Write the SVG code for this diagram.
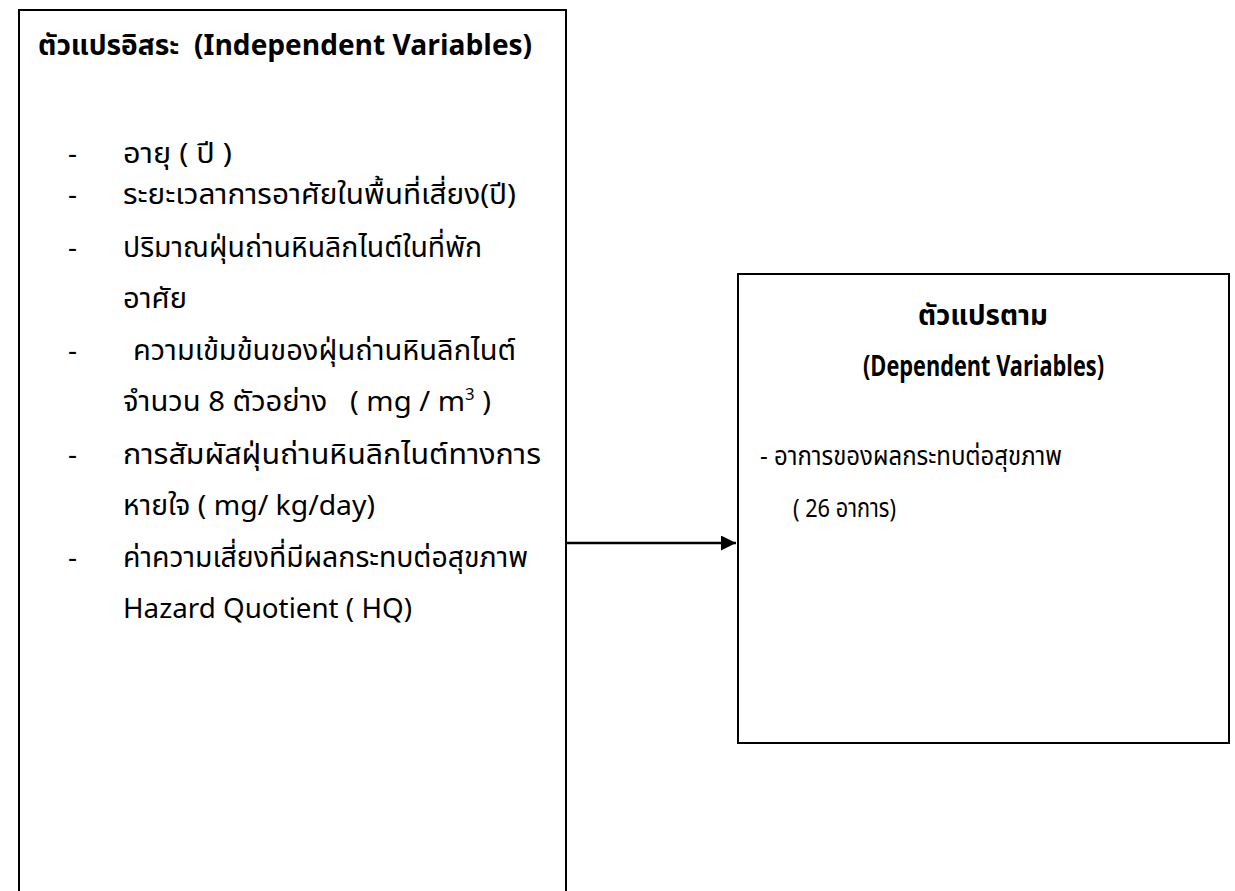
<svg xmlns="http://www.w3.org/2000/svg" width="1235" height="891" viewBox="0 0 1235 891">
<style>
.box{fill:#fff;stroke:#000;stroke-width:2}
.t{font-family:"Noto Sans Thai","Leelawadee UI","Noto Sans","DejaVu Sans",sans-serif;font-size:28px;fill:#000;white-space:pre}
.s{font-size:26px}
.b{font-weight:bold}
.conn{stroke:#000;stroke-width:2.5;fill:none}
</style>
<defs>
<marker id="ah" markerWidth="6" markerHeight="6" refX="6" refY="3" orient="auto" markerUnits="strokeWidth">
<path d="M0,0 L6,3 L0,6 Z" fill="#000"/>
</marker>
</defs>
<rect width="1235" height="891" fill="#fff"/>
<g id="independent">
<rect class="box" x="19" y="10" width="547" height="895"/>
<text class="t b" x="38" y="55" font-size="25" textLength="494" lengthAdjust="spacingAndGlyphs">ตัวแปรอิสระ  (Independent Variables)</text>
<text class="t" x="68" y="163">-</text><text class="t" x="123" y="163" textLength="109" lengthAdjust="spacingAndGlyphs">อายุ ( ปี )</text>
<text class="t" x="68" y="204">-</text><text class="t" x="123" y="204" textLength="393" lengthAdjust="spacingAndGlyphs">ระยะเวลาการอาศัยในพื้นที่เสี่ยง(ปี)</text>
<text class="t" x="68" y="257">-</text><text class="t" x="123" y="257" textLength="359" lengthAdjust="spacingAndGlyphs">ปริมาณฝุ่นถ่านหินลิกไนต์ในที่พัก</text>
<text class="t" x="123" y="308" textLength="64" lengthAdjust="spacingAndGlyphs">อาศัย</text>
<text class="t" x="68" y="360">-</text><text class="t" x="133" y="360" textLength="383" lengthAdjust="spacingAndGlyphs">ความเข้มข้นของฝุ่นถ่านหินลิกไนต์</text>
<text class="t" x="123" y="411" textLength="368" lengthAdjust="spacingAndGlyphs">จำนวน 8 ตัวอย่าง   ( mg / m<tspan font-size="16" dy="-11">3</tspan><tspan dy="11"> )</tspan></text>
<text class="t" x="68" y="464">-</text><text class="t" x="123" y="464" textLength="418" lengthAdjust="spacingAndGlyphs">การสัมผัสฝุ่นถ่านหินลิกไนต์ทางการ</text>
<text class="t" x="123" y="515" textLength="252" lengthAdjust="spacingAndGlyphs">หายใจ ( mg/ kg/day)</text>
<text class="t" x="68" y="567">-</text><text class="t" x="123" y="567" textLength="405" lengthAdjust="spacingAndGlyphs">ค่าความเสี่ยงที่มีผลกระทบต่อสุขภาพ</text>
<text class="t" x="123" y="618" textLength="289" lengthAdjust="spacingAndGlyphs">Hazard Quotient ( HQ)</text>
</g>
<g id="dependent">
<rect class="box" x="738" y="274" width="491" height="469"/>
<text class="t b" x="918" y="325" font-size="24" textLength="130" lengthAdjust="spacingAndGlyphs">ตัวแปรตาม</text>
<text class="t b" x="863" y="376" font-size="22" textLength="241" lengthAdjust="spacingAndGlyphs">(Dependent Variables)</text>
<text class="t s" x="760" y="465" textLength="302" lengthAdjust="spacingAndGlyphs">- อาการของผลกระทบต่อสุขภาพ</text>
<text class="t s" x="793" y="517" textLength="103" lengthAdjust="spacingAndGlyphs">( 26 อาการ)</text>
</g>
<g id="connectors">
<line class="conn" x1="566" y1="543" x2="736" y2="543" marker-end="url(#ah)"/>
</g>
</svg>
